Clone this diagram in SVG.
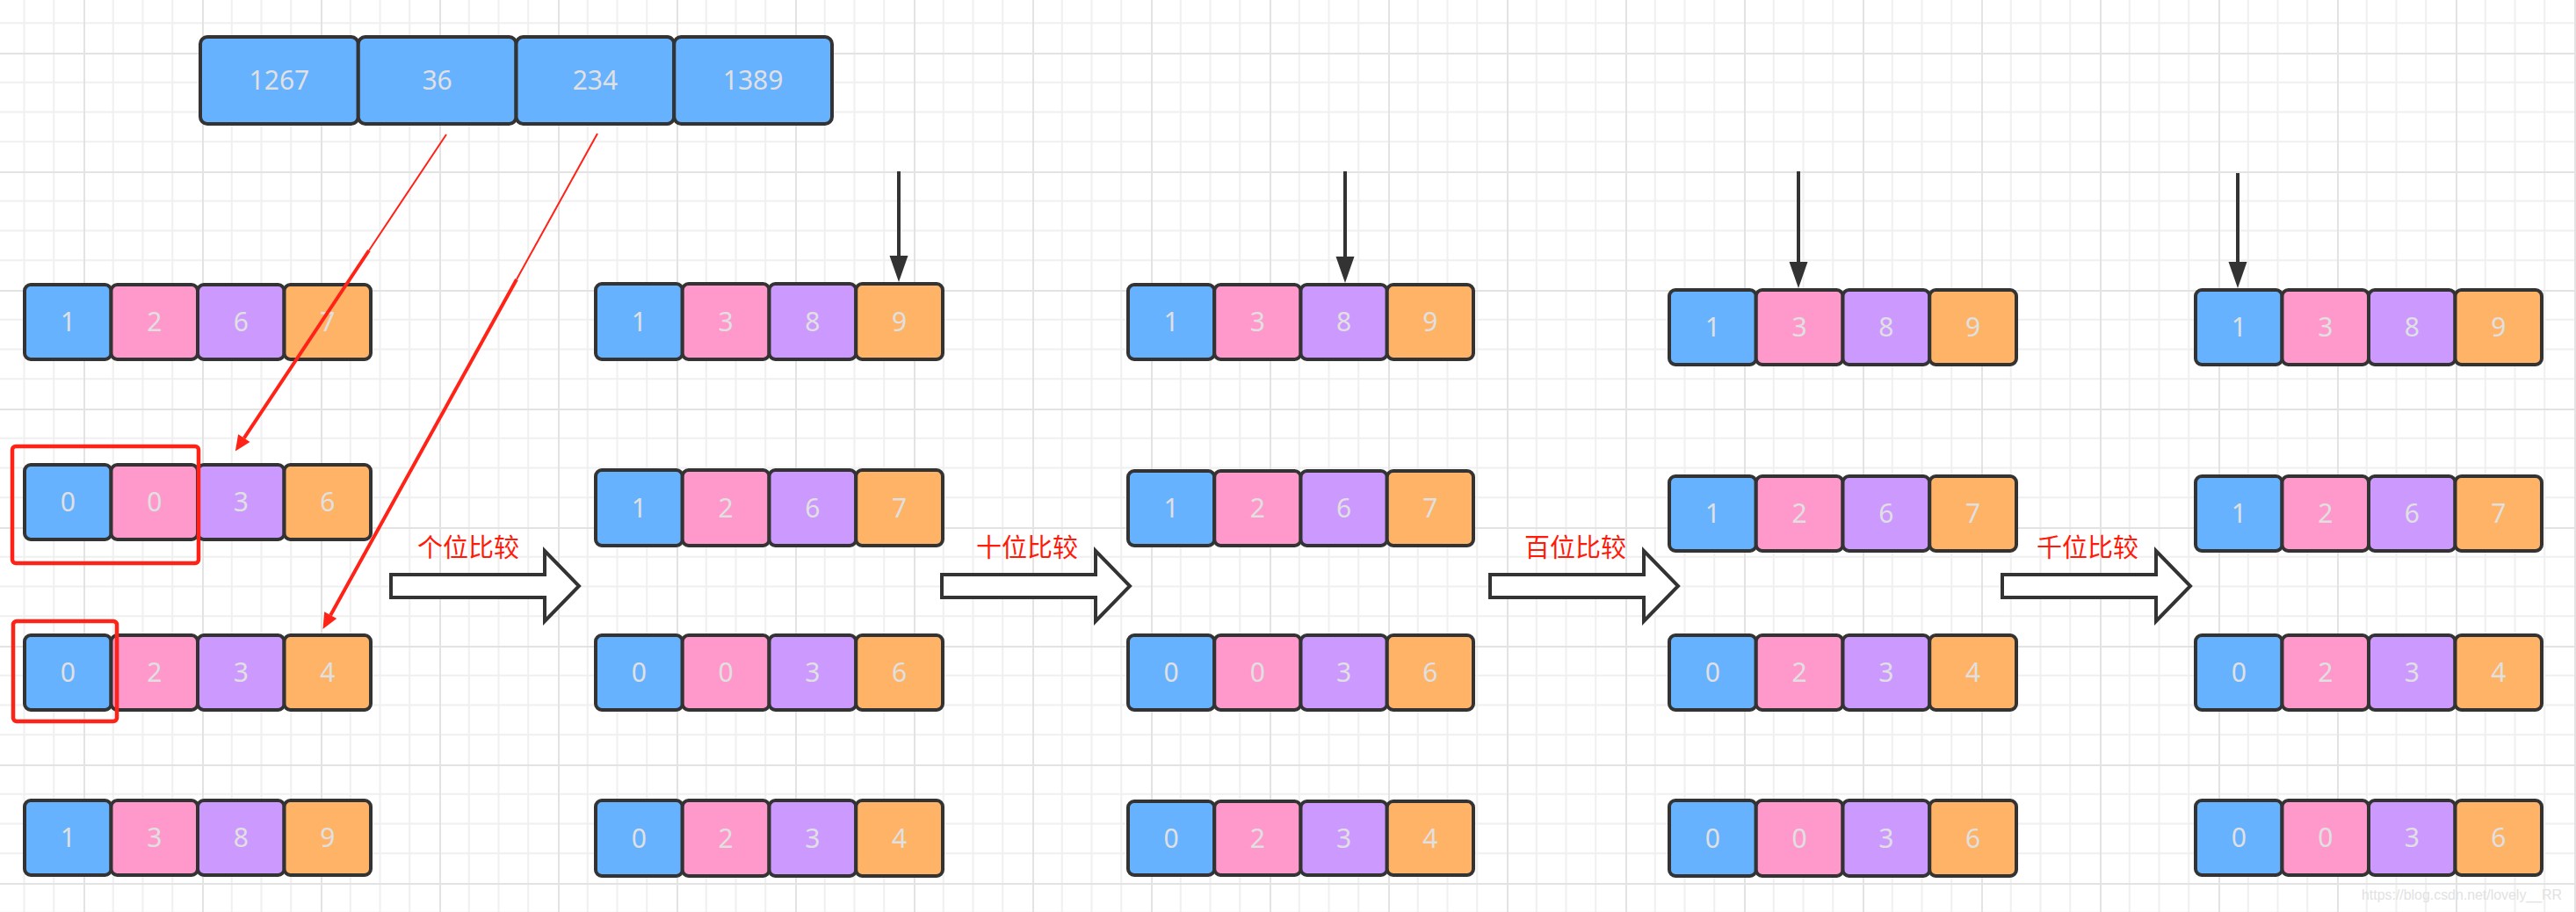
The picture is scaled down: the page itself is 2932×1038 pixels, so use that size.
<svg xmlns="http://www.w3.org/2000/svg" width="2932" height="1038" viewBox="0 0 2932 1038">
<style>
.cell{stroke:#333333;stroke-width:4}
.b{fill:#66b2ff}.p{fill:#ff99cc}.u{fill:#cc99ff}.o{fill:#ffb366}
.t{font-family:"Noto Sans","Open Sans","Liberation Sans",sans-serif;font-size:30px;fill:#e0e0e0;text-anchor:middle}
.lbl{font-family:"Noto Sans CJK SC","Noto Sans",sans-serif;font-size:29px;fill:#ff1a0a}
.hollow{fill:#ffffff;stroke:#333333;stroke-width:4;stroke-linejoin:miter}
.down{stroke:#333333;stroke-width:4;fill:none}
.red{stroke:#ff2216;fill:none}
.rbox{stroke:#ff2216;stroke-width:4.5;fill:none}
</style>
<defs>
<pattern id="grid" x="95" y="60" width="135" height="135" patternUnits="userSpaceOnUse">
<path d="M33.75,0V135M67.5,0V135M101.25,0V135M0,33.75H135M0,67.5H135M0,101.25H135" stroke="#f0f0f0" stroke-width="2" fill="none"/>
<path d="M1,0V135M0,1H135" stroke="#e3e3e3" stroke-width="2" fill="none"/>
</pattern>
<marker id="ah" markerUnits="userSpaceOnUse" viewBox="0 -11 31 22" markerWidth="31" markerHeight="22" refX="0" refY="0" orient="auto" overflow="visible">
<path d="M0,-10.5L30,0L0,10.5z" fill="#333333"/>
</marker>
<marker id="rh" markerUnits="userSpaceOnUse" viewBox="0 -9 19 18" markerWidth="19" markerHeight="18" refX="0" refY="0" orient="auto" overflow="visible">
<path d="M0,-8L18,0L0,8z" fill="#ff2216"/>
</marker>
</defs>
<rect width="2932" height="1038" fill="#ffffff"/>
<rect width="2932" height="1038" fill="url(#grid)"/>

<!-- top row -->
<g id="top-0"><rect class="cell b" x="228" y="42" width="179.75" height="99" rx="8"/><text class="t" x="317.9" y="102">1267</text></g>
<g id="top-1"><rect class="cell b" x="407.75" y="42" width="179.75" height="99" rx="8"/><text class="t" x="497.6" y="102">36</text></g>
<g id="top-2"><rect class="cell b" x="587.5" y="42" width="179.75" height="99" rx="8"/><text class="t" x="677.4" y="102">234</text></g>
<g id="top-3"><rect class="cell b" x="767.25" y="42" width="179.75" height="99" rx="8"/><text class="t" x="857.1" y="102">1389</text></g>

<!-- column 1 -->
<g id="c1r1-0"><rect class="cell b" x="28" y="324" width="98.5" height="85" rx="7"/><text class="t" x="77.25" y="377">1</text></g>
<g id="c1r1-1"><rect class="cell p" x="126.5" y="324" width="98.5" height="85" rx="7"/><text class="t" x="175.75" y="377">2</text></g>
<g id="c1r1-2"><rect class="cell u" x="225" y="324" width="98.5" height="85" rx="7"/><text class="t" x="274.25" y="377">6</text></g>
<g id="c1r1-3"><rect class="cell o" x="323.5" y="324" width="98.5" height="85" rx="7"/><text class="t" x="372.75" y="377">7</text></g>
<g id="c1r2-0"><rect class="cell b" x="28" y="529" width="98.5" height="85" rx="7"/><text class="t" x="77.25" y="582">0</text></g>
<g id="c1r2-1"><rect class="cell p" x="126.5" y="529" width="98.5" height="85" rx="7"/><text class="t" x="175.75" y="582">0</text></g>
<g id="c1r2-2"><rect class="cell u" x="225" y="529" width="98.5" height="85" rx="7"/><text class="t" x="274.25" y="582">3</text></g>
<g id="c1r2-3"><rect class="cell o" x="323.5" y="529" width="98.5" height="85" rx="7"/><text class="t" x="372.75" y="582">6</text></g>
<g id="c1r3-0"><rect class="cell b" x="28" y="723" width="98.5" height="85" rx="7"/><text class="t" x="77.25" y="776">0</text></g>
<g id="c1r3-1"><rect class="cell p" x="126.5" y="723" width="98.5" height="85" rx="7"/><text class="t" x="175.75" y="776">2</text></g>
<g id="c1r3-2"><rect class="cell u" x="225" y="723" width="98.5" height="85" rx="7"/><text class="t" x="274.25" y="776">3</text></g>
<g id="c1r3-3"><rect class="cell o" x="323.5" y="723" width="98.5" height="85" rx="7"/><text class="t" x="372.75" y="776">4</text></g>
<g id="c1r4-0"><rect class="cell b" x="28" y="911" width="98.5" height="85" rx="7"/><text class="t" x="77.25" y="964">1</text></g>
<g id="c1r4-1"><rect class="cell p" x="126.5" y="911" width="98.5" height="85" rx="7"/><text class="t" x="175.75" y="964">3</text></g>
<g id="c1r4-2"><rect class="cell u" x="225" y="911" width="98.5" height="85" rx="7"/><text class="t" x="274.25" y="964">8</text></g>
<g id="c1r4-3"><rect class="cell o" x="323.5" y="911" width="98.5" height="85" rx="7"/><text class="t" x="372.75" y="964">9</text></g>

<!-- column 2 -->
<g id="c2r1-0"><rect class="cell b" x="678" y="323" width="98.75" height="86" rx="7"/><text class="t" x="727.4" y="377">1</text></g>
<g id="c2r1-1"><rect class="cell p" x="776.75" y="323" width="98.75" height="86" rx="7"/><text class="t" x="826.1" y="377">3</text></g>
<g id="c2r1-2"><rect class="cell u" x="875.5" y="323" width="98.75" height="86" rx="7"/><text class="t" x="924.9" y="377">8</text></g>
<g id="c2r1-3"><rect class="cell o" x="974.25" y="323" width="98.75" height="86" rx="7"/><text class="t" x="1023.6" y="377">9</text></g>
<g id="c2r2-0"><rect class="cell b" x="678" y="535" width="98.75" height="86" rx="7"/><text class="t" x="727.4" y="589">1</text></g>
<g id="c2r2-1"><rect class="cell p" x="776.75" y="535" width="98.75" height="86" rx="7"/><text class="t" x="826.1" y="589">2</text></g>
<g id="c2r2-2"><rect class="cell u" x="875.5" y="535" width="98.75" height="86" rx="7"/><text class="t" x="924.9" y="589">6</text></g>
<g id="c2r2-3"><rect class="cell o" x="974.25" y="535" width="98.75" height="86" rx="7"/><text class="t" x="1023.6" y="589">7</text></g>
<g id="c2r3-0"><rect class="cell b" x="678" y="723" width="98.75" height="85" rx="7"/><text class="t" x="727.4" y="776">0</text></g>
<g id="c2r3-1"><rect class="cell p" x="776.75" y="723" width="98.75" height="85" rx="7"/><text class="t" x="826.1" y="776">0</text></g>
<g id="c2r3-2"><rect class="cell u" x="875.5" y="723" width="98.75" height="85" rx="7"/><text class="t" x="924.9" y="776">3</text></g>
<g id="c2r3-3"><rect class="cell o" x="974.25" y="723" width="98.75" height="85" rx="7"/><text class="t" x="1023.6" y="776">6</text></g>
<g id="c2r4-0"><rect class="cell b" x="678" y="911" width="98.75" height="86" rx="7"/><text class="t" x="727.4" y="965">0</text></g>
<g id="c2r4-1"><rect class="cell p" x="776.75" y="911" width="98.75" height="86" rx="7"/><text class="t" x="826.1" y="965">2</text></g>
<g id="c2r4-2"><rect class="cell u" x="875.5" y="911" width="98.75" height="86" rx="7"/><text class="t" x="924.9" y="965">3</text></g>
<g id="c2r4-3"><rect class="cell o" x="974.25" y="911" width="98.75" height="86" rx="7"/><text class="t" x="1023.6" y="965">4</text></g>

<!-- column 3 -->
<g id="c3r1-0"><rect class="cell b" x="1284" y="324" width="98.25" height="85" rx="7"/><text class="t" x="1333.1" y="377">1</text></g>
<g id="c3r1-1"><rect class="cell p" x="1382.25" y="324" width="98.25" height="85" rx="7"/><text class="t" x="1431.4" y="377">3</text></g>
<g id="c3r1-2"><rect class="cell u" x="1480.5" y="324" width="98.25" height="85" rx="7"/><text class="t" x="1529.6" y="377">8</text></g>
<g id="c3r1-3"><rect class="cell o" x="1578.75" y="324" width="98.25" height="85" rx="7"/><text class="t" x="1627.9" y="377">9</text></g>
<g id="c3r2-0"><rect class="cell b" x="1284" y="536" width="98.25" height="85" rx="7"/><text class="t" x="1333.1" y="589">1</text></g>
<g id="c3r2-1"><rect class="cell p" x="1382.25" y="536" width="98.25" height="85" rx="7"/><text class="t" x="1431.4" y="589">2</text></g>
<g id="c3r2-2"><rect class="cell u" x="1480.5" y="536" width="98.25" height="85" rx="7"/><text class="t" x="1529.6" y="589">6</text></g>
<g id="c3r2-3"><rect class="cell o" x="1578.75" y="536" width="98.25" height="85" rx="7"/><text class="t" x="1627.9" y="589">7</text></g>
<g id="c3r3-0"><rect class="cell b" x="1284" y="723" width="98.25" height="85" rx="7"/><text class="t" x="1333.1" y="776">0</text></g>
<g id="c3r3-1"><rect class="cell p" x="1382.25" y="723" width="98.25" height="85" rx="7"/><text class="t" x="1431.4" y="776">0</text></g>
<g id="c3r3-2"><rect class="cell u" x="1480.5" y="723" width="98.25" height="85" rx="7"/><text class="t" x="1529.6" y="776">3</text></g>
<g id="c3r3-3"><rect class="cell o" x="1578.75" y="723" width="98.25" height="85" rx="7"/><text class="t" x="1627.9" y="776">6</text></g>
<g id="c3r4-0"><rect class="cell b" x="1284" y="912" width="98.25" height="84" rx="7"/><text class="t" x="1333.1" y="965">0</text></g>
<g id="c3r4-1"><rect class="cell p" x="1382.25" y="912" width="98.25" height="84" rx="7"/><text class="t" x="1431.4" y="965">2</text></g>
<g id="c3r4-2"><rect class="cell u" x="1480.5" y="912" width="98.25" height="84" rx="7"/><text class="t" x="1529.6" y="965">3</text></g>
<g id="c3r4-3"><rect class="cell o" x="1578.75" y="912" width="98.25" height="84" rx="7"/><text class="t" x="1627.9" y="965">4</text></g>

<!-- column 4 -->
<g id="c4r1-0"><rect class="cell b" x="1900" y="330" width="98.75" height="85" rx="7"/><text class="t" x="1949.4" y="383">1</text></g>
<g id="c4r1-1"><rect class="cell p" x="1998.75" y="330" width="98.75" height="85" rx="7"/><text class="t" x="2048.1" y="383">3</text></g>
<g id="c4r1-2"><rect class="cell u" x="2097.5" y="330" width="98.75" height="85" rx="7"/><text class="t" x="2146.9" y="383">8</text></g>
<g id="c4r1-3"><rect class="cell o" x="2196.25" y="330" width="98.75" height="85" rx="7"/><text class="t" x="2245.6" y="383">9</text></g>
<g id="c4r2-0"><rect class="cell b" x="1900" y="542" width="98.75" height="85" rx="7"/><text class="t" x="1949.4" y="595">1</text></g>
<g id="c4r2-1"><rect class="cell p" x="1998.75" y="542" width="98.75" height="85" rx="7"/><text class="t" x="2048.1" y="595">2</text></g>
<g id="c4r2-2"><rect class="cell u" x="2097.5" y="542" width="98.75" height="85" rx="7"/><text class="t" x="2146.9" y="595">6</text></g>
<g id="c4r2-3"><rect class="cell o" x="2196.25" y="542" width="98.75" height="85" rx="7"/><text class="t" x="2245.6" y="595">7</text></g>
<g id="c4r3-0"><rect class="cell b" x="1900" y="723" width="98.75" height="85" rx="7"/><text class="t" x="1949.4" y="776">0</text></g>
<g id="c4r3-1"><rect class="cell p" x="1998.75" y="723" width="98.75" height="85" rx="7"/><text class="t" x="2048.1" y="776">2</text></g>
<g id="c4r3-2"><rect class="cell u" x="2097.5" y="723" width="98.75" height="85" rx="7"/><text class="t" x="2146.9" y="776">3</text></g>
<g id="c4r3-3"><rect class="cell o" x="2196.25" y="723" width="98.75" height="85" rx="7"/><text class="t" x="2245.6" y="776">4</text></g>
<g id="c4r4-0"><rect class="cell b" x="1900" y="911" width="98.75" height="86" rx="7"/><text class="t" x="1949.4" y="965">0</text></g>
<g id="c4r4-1"><rect class="cell p" x="1998.75" y="911" width="98.75" height="86" rx="7"/><text class="t" x="2048.1" y="965">0</text></g>
<g id="c4r4-2"><rect class="cell u" x="2097.5" y="911" width="98.75" height="86" rx="7"/><text class="t" x="2146.9" y="965">3</text></g>
<g id="c4r4-3"><rect class="cell o" x="2196.25" y="911" width="98.75" height="86" rx="7"/><text class="t" x="2245.6" y="965">6</text></g>

<!-- column 5 -->
<g id="c5r1-0"><rect class="cell b" x="2499" y="330" width="98.5" height="85" rx="7"/><text class="t" x="2548.25" y="383">1</text></g>
<g id="c5r1-1"><rect class="cell p" x="2597.5" y="330" width="98.5" height="85" rx="7"/><text class="t" x="2646.75" y="383">3</text></g>
<g id="c5r1-2"><rect class="cell u" x="2696" y="330" width="98.5" height="85" rx="7"/><text class="t" x="2745.25" y="383">8</text></g>
<g id="c5r1-3"><rect class="cell o" x="2794.5" y="330" width="98.5" height="85" rx="7"/><text class="t" x="2843.75" y="383">9</text></g>
<g id="c5r2-0"><rect class="cell b" x="2499" y="542" width="98.5" height="85" rx="7"/><text class="t" x="2548.25" y="595">1</text></g>
<g id="c5r2-1"><rect class="cell p" x="2597.5" y="542" width="98.5" height="85" rx="7"/><text class="t" x="2646.75" y="595">2</text></g>
<g id="c5r2-2"><rect class="cell u" x="2696" y="542" width="98.5" height="85" rx="7"/><text class="t" x="2745.25" y="595">6</text></g>
<g id="c5r2-3"><rect class="cell o" x="2794.5" y="542" width="98.5" height="85" rx="7"/><text class="t" x="2843.75" y="595">7</text></g>
<g id="c5r3-0"><rect class="cell b" x="2499" y="723" width="98.5" height="85" rx="7"/><text class="t" x="2548.25" y="776">0</text></g>
<g id="c5r3-1"><rect class="cell p" x="2597.5" y="723" width="98.5" height="85" rx="7"/><text class="t" x="2646.75" y="776">2</text></g>
<g id="c5r3-2"><rect class="cell u" x="2696" y="723" width="98.5" height="85" rx="7"/><text class="t" x="2745.25" y="776">3</text></g>
<g id="c5r3-3"><rect class="cell o" x="2794.5" y="723" width="98.5" height="85" rx="7"/><text class="t" x="2843.75" y="776">4</text></g>
<g id="c5r4-0"><rect class="cell b" x="2499" y="911" width="98.5" height="85" rx="7"/><text class="t" x="2548.25" y="964">0</text></g>
<g id="c5r4-1"><rect class="cell p" x="2597.5" y="911" width="98.5" height="85" rx="7"/><text class="t" x="2646.75" y="964">0</text></g>
<g id="c5r4-2"><rect class="cell u" x="2696" y="911" width="98.5" height="85" rx="7"/><text class="t" x="2745.25" y="964">3</text></g>
<g id="c5r4-3"><rect class="cell o" x="2794.5" y="911" width="98.5" height="85" rx="7"/><text class="t" x="2843.75" y="964">6</text></g>

<!-- hollow step arrows with labels -->
<g id="step1"><path class="hollow" d="M445,654H620V627L659,667L620,707V680H445Z"/><text class="lbl" x="475" y="634">个位比较</text></g>
<g id="step2"><path class="hollow" d="M1072,654H1247V627L1286,667L1247,707V680H1072Z"/><text class="lbl" x="1111" y="634">十位比较</text></g>
<g id="step3"><path class="hollow" d="M1696,654H1871V627L1910,667L1871,707V680H1696Z"/><text class="lbl" x="1735" y="634">百位比较</text></g>
<g id="step4"><path class="hollow" d="M2279,654H2454V627L2493,667L2454,707V680H2279Z"/><text class="lbl" x="2318" y="634">千位比较</text></g>

<!-- connectors -->
<g id="connectors">
<path class="down" d="M1023,195V291" marker-end="url(#ah)"/>
<path class="down" d="M1531,195V292" marker-end="url(#ah)"/>
<path class="down" d="M2047,195V298" marker-end="url(#ah)"/>
<path class="down" d="M2547,197V298" marker-end="url(#ah)"/>
<path class="red" stroke-width="2" d="M508,153L420,285"/>
<path class="red" stroke-width="4" d="M420,285L277.8,498.6" marker-end="url(#rh)"/>
<path class="red" stroke-width="2" d="M680,152L588,318"/>
<path class="red" stroke-width="4" d="M588,318L376.2,700.2" marker-end="url(#rh)"/>
</g>

<!-- red highlight boxes -->
<rect id="hl1" class="rbox" x="14" y="508" width="212" height="133" rx="4"/>
<rect id="hl2" class="rbox" x="15" y="707" width="118" height="114" rx="4"/>

<text x="2688" y="1024" font-family="'Liberation Sans',sans-serif" font-size="17" fill="#e2e2e2" textLength="228" lengthAdjust="spacingAndGlyphs">https://blog.csdn.net/lovely__RR</text>
</svg>
